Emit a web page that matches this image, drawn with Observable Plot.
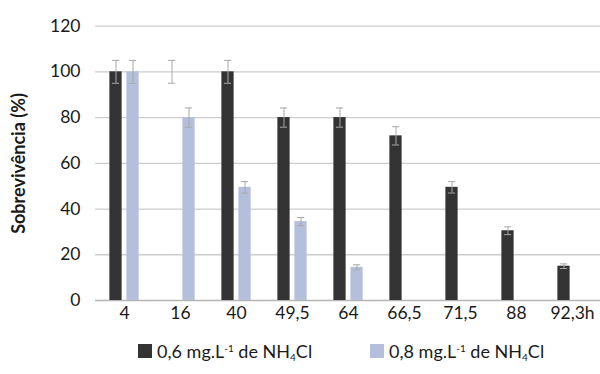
<!DOCTYPE html>
<html>
<head>
<meta charset="utf-8">
<script src="https://cdn.jsdelivr.net/npm/d3@7"></script>
<script src="https://cdn.jsdelivr.net/npm/@observablehq/plot@0.6"></script>
<style>
  html, body { margin: 0; padding: 0; background: #fff; }
  body { width: 600px; height: 374px; overflow: hidden; font-family: Lato, "Open Sans", sans-serif; color: #1a1a1a; }
  #chart svg { display: block; }
  .legend { position: relative; height: 40px; font-size: 18px; }
  .item { position: absolute; top: 10px; display: flex; align-items: center; white-space: nowrap; }
  .sw { width: 14px; height: 14px; margin-right: 5px; display: inline-block; }
  sup, sub { font-size: 10px; line-height: 0; }
  sup { vertical-align: 6px; }
  sub { vertical-align: -3px; }
</style>
</head>
<body>
<div id="chart"></div>
<div class="legend" id="legend"></div>
<script>
// ---- data ----
const categories = ["4", "16", "40", "49,5", "64", "66,5", "71,5", "88", "92,3h"];
const seriesNames = ["0,6 mg.L-1 de NH4Cl", "0,8 mg.L-1 de NH4Cl"];
const seriesColors = ["#333333", "#b4bfdc"];
// 0,6 mg/L: bar values (no bar drawn at 16 h) and error-bar centres
const darkValues = [100, null, 100, 80, 80, 72, 49.5, 30.5, 15];
const darkErrCenter = [100, 100, 100, 80, 80, 72, 49.5, 30.5, 15];
const darkErr = [5, 5, 5, 4.2, 4.2, 4, 2.5, 1.7, 1];
// 0,8 mg/L
const lightValues = [100, 80, 49.5, 34.5, 14.5, null, null, null, null];
const lightErr = [5, 4.2, 2.5, 1.8, 1.1, null, null, null, null];
const yTicks = [0, 20, 40, 60, 80, 100, 120];

const rows = [];
categories.forEach((c, i) => {
  rows.push({cat: c, s: seriesNames[0], v: darkValues[i], m: darkErrCenter[i], e: darkErr[i]});
  rows.push({cat: c, s: seriesNames[1], v: lightValues[i], m: lightValues[i], e: lightErr[i]});
});
const dark = rows.filter(d => d.s === seriesNames[0]);
const light = rows.filter(d => d.s === seriesNames[1]);
const barsD = dark.filter(d => d.v != null);
const barsL = light.filter(d => d.v != null);
const errD = dark.filter(d => d.m != null && d.e != null);
const errL = light.filter(d => d.m != null && d.e != null);

const W = 600, H = 330;
const x0 = 92.6, x1 = 603.4;
const bw = (x1 - x0) / categories.length;
const barW = 13, off = 8.5, capW = 8;
const bi = (bw - barW) / 2, ci = (bw - capW) / 2;
const errColor = "#a8a8a8";

function errMarks(data, dx) {
  return [
    Plot.ruleX(data, {x: "cat", y1: d => d.m - d.e, y2: d => d.m + d.e, dx, stroke: errColor, strokeWidth: 1}),
    Plot.tickY(data, {x: "cat", y: d => d.m - d.e, dx, insetLeft: ci, insetRight: ci, stroke: errColor, strokeWidth: 1}),
    Plot.tickY(data, {x: "cat", y: d => d.m + d.e, dx, insetLeft: ci, insetRight: ci, stroke: errColor, strokeWidth: 1})
  ];
}

const chart = Plot.plot({
  width: W,
  height: H,
  marginLeft: 95,
  marginRight: 0,
  marginTop: 26,
  marginBottom: 30,
  style: {fontFamily: "Lato, 'Open Sans', sans-serif", fontSize: "17.5px", color: "#1a1a1a", background: "#fff"},
  x: {domain: categories, range: [x0, x1], padding: 0},
  y: {domain: [0, 120], range: [300, 25.6]},
  color: {domain: seriesNames, range: seriesColors},
  marks: [
    Plot.ruleY(yTicks, {stroke: d => d === 0 ? "#b5b5b5" : "#cdcdcd", strokeWidth: 1.3}),
    Plot.barY(barsD, {x: "cat", y: "v", fill: "s", dx: -off, insetLeft: bi, insetRight: bi}),
    Plot.barY(barsL, {x: "cat", y: "v", fill: "s", dx: off, insetLeft: bi, insetRight: bi}),
    ...errMarks(errD, -off),
    ...errMarks(errL, off),
    Plot.axisY({ticks: yTicks, tickSize: 0, tickPadding: 15, label: "Sobrevivência (%)", labelArrow: "none", labelAnchor: "center", labelOffset: 83, fontSize: 17.5}),
    Plot.axisX({tickSize: 0, tickPadding: 6, label: null, fontSize: 17.5})
  ]
});
d3.select(chart).selectAll("text").each(function() {
  const t = this.textContent;
  if (t.includes("Sobreviv")) {
    d3.select(this).text("Sobrevivência (%)").attr("font-weight", 700).style("font-size", "18px");
  }
});
document.getElementById("chart").appendChild(chart);

// legend
const leg = document.getElementById("legend");
const lefts = [138, 370];
seriesNames.forEach((name, i) => {
  const it = document.createElement("div");
  it.className = "item";
  it.style.left = lefts[i] + "px";
  const sw = document.createElement("span");
  sw.className = "sw";
  sw.style.background = seriesColors[i];
  it.appendChild(sw);
  const t = document.createElement("span");
  t.innerHTML = name.replace("L-1", "L<sup>-1</sup>").replace("NH4", "NH<sub>4</sub>");
  it.appendChild(t);
  leg.appendChild(it);
});
</script>
</body>
</html>
